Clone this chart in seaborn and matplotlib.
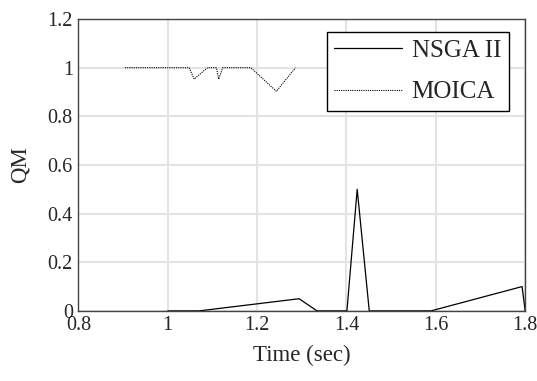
import numpy as np
import pandas as pd
import matplotlib
matplotlib.use("Agg")
import matplotlib.pyplot as plt
import seaborn as sns
from matplotlib.ticker import FuncFormatter

# Data
nsga_time = [1.0, 1.07, 1.294, 1.334, 1.401, 1.424, 1.451, 1.589, 1.793, 1.8]
nsga_qm   = [0.0, 0.0, 0.05, 0.0, 0.0, 0.5, 0.0, 0.0, 0.1, 0.0]

moica_time = [0.904, 1.048, 1.059, 1.089, 1.109, 1.114, 1.123, 1.186, 1.243, 1.286]
moica_qm   = [1.0, 1.0, 0.953, 1.0, 1.0, 0.953, 1.0, 1.0, 0.903, 1.0]

x_ticks = [0.8, 1.0, 1.2, 1.4, 1.6, 1.8]
y_ticks = [0, 0.2, 0.4, 0.6, 0.8, 1.0, 1.2]

sns.set_style("whitegrid")
plt.rcParams['font.family'] = ['Liberation Serif', 'DejaVu Serif']

df_n = pd.DataFrame({"t": nsga_time, "q": nsga_qm})
df_m = pd.DataFrame({"t": moica_time, "q": moica_qm})

fig = plt.figure(figsize=(5.37, 3.81), dpi=100)
ax = fig.add_axes([0.146, 0.184, 0.832, 0.766])

sns.lineplot(data=df_n, x="t", y="q", ax=ax, color="black", linewidth=0.9,
             label="NSGA II", sort=False, estimator=None)
sns.lineplot(data=df_m, x="t", y="q", ax=ax, color="black", linewidth=0.8,
             linestyle=(0, (1, 1)), label="MOICA", sort=False, estimator=None)

ax.set_xlim(0.8, 1.8)
ax.set_ylim(0, 1.2)
ax.set_xticks(x_ticks)
ax.set_yticks(y_ticks)
fmt = FuncFormatter(lambda v, p: f"{v:g}")
ax.xaxis.set_major_formatter(fmt)
ax.yaxis.set_major_formatter(fmt)
ax.tick_params(axis='both', labelsize=14.5, length=0)
ax.tick_params(axis='x', pad=3.5)
ax.tick_params(axis='y', pad=4)
ax.set_xlabel("Time (sec)", fontsize=16.5, labelpad=7)
ax.set_ylabel("QM", fontsize=16.5, labelpad=12)

ax.grid(True, color="#e3e3e3", linewidth=1.5)
for s in ax.spines.values():
    s.set_color("#444444")
    s.set_linewidth(1.0)

leg = ax.legend(loc="upper right", bbox_to_anchor=(0.963, 0.955), borderaxespad=0,
                fontsize=18, handlelength=2.7, frameon=True, fancybox=False,
                borderpad=0.3, labelspacing=0.75, handletextpad=0.4)
leg.get_frame().set_edgecolor("black")
leg.get_frame().set_linewidth(1.0)
leg.get_frame().set_alpha(1)

fig.savefig("out.png", dpi=100)
